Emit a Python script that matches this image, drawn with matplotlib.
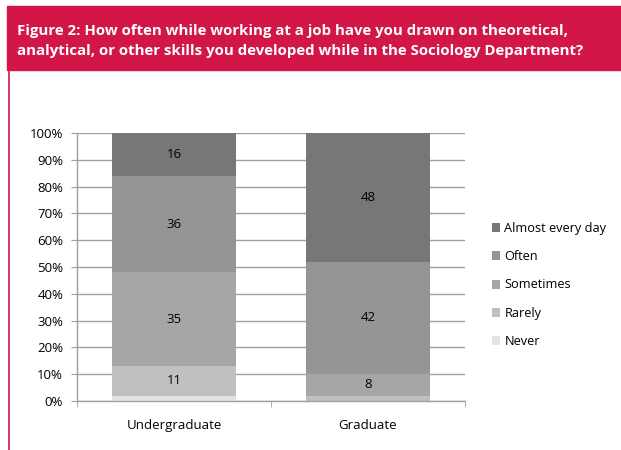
import matplotlib
matplotlib.use("Agg")
import matplotlib.pyplot as plt
from matplotlib.patches import Rectangle
from matplotlib.lines import Line2D

categories = ["Undergraduate", "Graduate"]
series_names = ["Never", "Rarely", "Sometimes", "Often", "Almost every day"]
never = [2, 0]
rarely = [11, 2]
sometimes = [35, 8]
often = [36, 42]
almost_every_day = [16, 48]
labels_shown = [[None, "11", "35", "36", "16"], [None, None, "8", "42", "48"]]
y_ticks = [0, 10, 20, 30, 40, 50, 60, 70, 80, 90, 100]
y_tick_labels = [f"{t}%" for t in y_ticks]

colors = ["#E3E3E3", "#C0C0C0", "#A6A6A6", "#959595", "#777777"]
crimson = "#D21648"
font = ["Open Sans", "DejaVu Sans"]
plt.rcParams["font.family"] = font

fig = plt.figure(figsize=(6.21, 4.5), dpi=100)

# banner
fig.patches.append(Rectangle((7/621, 1 - 70/450), 1 - 7/621, 64/450,
                             transform=fig.transFigure, color=crimson, zorder=0))
fig.text(17/621, 1 - 41/450,
         "Figure 2: How often while working at a job have you drawn on theoretical,\n"
         "analytical, or other skills you developed while in the Sociology Department?",
         color="white", fontsize=10.8, fontweight="bold", va="center", ha="left",
         linespacing=1.55)
fig.lines.append(Line2D([9/621, 9/621], [0, 1 - 70/450], transform=fig.transFigure,
                        color=crimson, lw=1.2))

ax = fig.add_axes([77/621, 49/450, 388/621, 268/450])
series = [never, rarely, sometimes, often, almost_every_day]
x = list(range(len(categories)))
bottoms = [0] * len(categories)
for i, (name, vals) in enumerate(zip(series_names, series)):
    ax.bar(x, vals, bottom=bottoms, width=0.64, color=colors[i], label=name, zorder=2)
    for j, v in enumerate(vals):
        lab = labels_shown[j][i]
        if lab:
            ax.text(x[j], bottoms[j] + v / 2, lab, ha="center", va="center",
                    fontsize=9.5, color="black", zorder=3)
    bottoms = [b + v for b, v in zip(bottoms, vals)]

ax.set_xlim(-0.5, 1.5)
ax.set_ylim(0, 100)
ax.set_yticks(y_ticks)
ax.set_yticklabels(y_tick_labels, fontsize=9.5)
ax.set_xticks(x)
ax.set_xticklabels(categories, fontsize=9.5)
ax.set_xticks([-0.5, 0.5, 1.5], minor=True)
ax.tick_params(axis="x", which="major", length=0, pad=13)
ax.tick_params(axis="x", which="minor", length=4, color="#A0A0A0")
ax.tick_params(axis="y", length=4, color="#A0A0A0", pad=6)
ax.yaxis.grid(True, color="#A0A0A0", lw=1, zorder=0)
ax.set_axisbelow(True)
for s in ["top", "right"]:
    ax.spines[s].set_visible(False)
for s in ["left", "bottom"]:
    ax.spines[s].set_color("#A0A0A0")
    ax.spines[s].set_linewidth(1)

handles, labs = ax.get_legend_handles_labels()
leg = fig.legend(handles[::-1], labs[::-1], loc="center left",
                 bbox_to_anchor=(480/621, 1 - 285/450), frameon=False,
                 fontsize=9.2, handlelength=0.7, handleheight=0.7,
                 handletextpad=0.3, labelspacing=1.2)

fig.savefig("out.png", dpi=100)
